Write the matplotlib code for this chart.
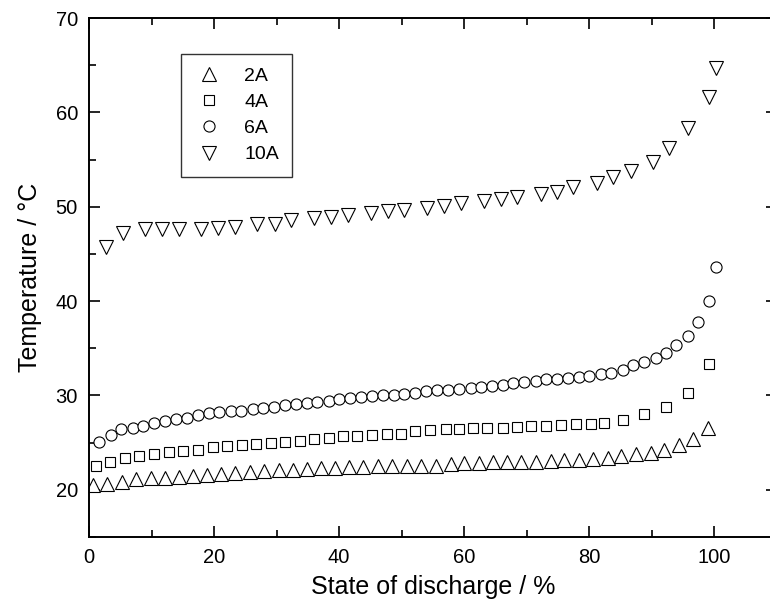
import matplotlib
matplotlib.use('Agg')
import matplotlib.pyplot as plt
from matplotlib.ticker import MultipleLocator

plt.rcParams['font.family'] = ['Liberation Sans', 'DejaVu Sans']

# 2A
x_2a = [0.6, 2.9, 5.3, 7.5, 9.9, 12.2, 14.4, 16.6, 18.9, 21.1, 23.4, 25.8, 28.0, 30.4,
        32.6, 34.9, 37.1, 39.4, 41.6, 43.8, 46.2, 48.5, 50.9, 53.1, 55.5, 57.8, 60.0,
        62.4, 64.6, 66.9, 69.1, 71.4, 73.8, 76.0, 78.4, 80.6, 82.9, 85.1, 87.5, 89.8,
        92.0, 94.4, 96.6, 99.0]
t_2a = [20.5, 20.6, 20.8, 21.1, 21.2, 21.3, 21.4, 21.5, 21.6, 21.7, 21.8, 21.9, 22.0, 22.1,
        22.1, 22.2, 22.3, 22.3, 22.4, 22.4, 22.5, 22.5, 22.5, 22.5, 22.5, 22.7, 22.8,
        22.8, 22.9, 22.9, 23.0, 23.0, 23.1, 23.2, 23.2, 23.3, 23.4, 23.6, 23.8, 23.9,
        24.2, 24.7, 25.4, 26.5]

# 4A
x_4a = [1.1, 3.4, 5.8, 8.0, 10.4, 12.8, 15.0, 17.4, 19.8, 22.1, 24.5, 26.7, 29.1, 31.4,
        33.8, 36.0, 38.4, 40.6, 42.9, 45.3, 47.7, 49.9, 52.2, 54.6, 57.0, 59.2, 61.4,
        63.7, 66.2, 68.5, 70.7, 73.1, 75.5, 77.8, 80.2, 82.4, 85.4, 88.8, 92.2, 95.7, 99.2]
t_4a = [22.5, 23.0, 23.4, 23.6, 23.8, 24.0, 24.1, 24.2, 24.5, 24.6, 24.8, 24.9, 25.0, 25.1,
        25.2, 25.4, 25.5, 25.7, 25.7, 25.8, 25.9, 25.9, 26.2, 26.3, 26.4, 26.4, 26.5,
        26.6, 26.6, 26.7, 26.8, 26.8, 26.9, 27.0, 27.0, 27.1, 27.4, 28.0, 28.8, 30.3, 33.3]

# 6A
x_6a = [1.6, 3.5, 5.1, 7.0, 8.6, 10.4, 12.2, 13.9, 15.7, 17.4, 19.2, 20.8, 22.7, 24.3,
        26.2, 27.8, 29.6, 31.4, 33.1, 34.9, 36.5, 38.4, 40.0, 41.8, 43.5, 45.3, 47.0,
        48.8, 50.4, 52.2, 53.9, 55.7, 57.4, 59.2, 61.0, 62.7, 64.5, 66.2, 67.8, 69.6,
        71.4, 73.1, 74.9, 76.6, 78.4, 80.0, 81.8, 83.5, 85.3, 87.0, 88.8, 90.6, 92.3,
        93.9, 95.7, 97.4, 99.2, 100.2]
t_6a = [25.1, 25.8, 26.4, 26.6, 26.8, 27.1, 27.3, 27.5, 27.6, 27.9, 28.1, 28.2, 28.3, 28.4,
        28.6, 28.7, 28.8, 29.0, 29.1, 29.2, 29.3, 29.4, 29.6, 29.7, 29.8, 29.9, 30.0,
        30.1, 30.2, 30.3, 30.5, 30.6, 30.6, 30.7, 30.8, 30.9, 31.0, 31.1, 31.3, 31.4,
        31.5, 31.7, 31.7, 31.9, 32.0, 32.1, 32.3, 32.4, 32.7, 33.2, 33.5, 34.0, 34.5,
        35.3, 36.3, 37.8, 40.0, 43.6]

# 10A
x_10a = [2.7, 5.4, 8.9, 11.7, 14.4, 17.9, 20.6, 23.4, 26.9, 29.8, 32.3, 36.0, 38.7, 41.4,
         45.1, 47.8, 50.4, 54.1, 56.8, 59.5, 63.2, 65.8, 68.5, 72.2, 74.9, 77.4, 81.3,
         83.8, 86.6, 90.2, 92.8, 95.7, 99.2, 100.2]
t_10a = [45.7, 47.2, 47.6, 47.6, 47.6, 47.6, 47.7, 47.9, 48.2, 48.2, 48.6, 48.8, 48.9, 49.1,
         49.3, 49.5, 49.7, 49.9, 50.1, 50.4, 50.6, 50.8, 51.0, 51.3, 51.6, 52.1, 52.5,
         53.1, 53.8, 54.7, 56.2, 58.3, 61.6, 64.7]

fig = plt.figure(figsize=(7.70, 6.07), dpi=100)
ax = fig.add_axes([89 / 770, 1 - 537 / 607, 688 / 770, 519 / 607])

style = dict(linestyle='none', markerfacecolor='white', markeredgecolor='black',
             markeredgewidth=0.8)
ax.plot(x_2a, t_2a, marker='^', markersize=9.5, label='2A', **style)
ax.plot(x_4a, t_4a, marker='s', markersize=7.2, label='4A', **style)
ax.plot(x_6a, t_6a, marker='o', markersize=8, label='6A', **style)
ax.plot(x_10a, t_10a, marker='v', markersize=9.5, label='10A', **style)

ax.set_xlim(0, 110)
ax.set_ylim(15, 70)
ax.xaxis.set_major_locator(MultipleLocator(20))
ax.xaxis.set_minor_locator(MultipleLocator(10))
ax.yaxis.set_major_locator(MultipleLocator(10))
ax.yaxis.set_minor_locator(MultipleLocator(5))
ax.tick_params(which='both', direction='in', top=True, right=True, width=1.2)
ax.tick_params(which='major', length=8, labelsize=14.5, pad=8)
ax.tick_params(which='minor', length=5)
for s in ax.spines.values():
    s.set_linewidth(1.4)

ax.set_xlabel('State of discharge / %', fontsize=18, labelpad=6)
ax.set_ylabel('Temperature / °C', fontsize=18, labelpad=10)

leg = ax.legend(loc='upper left', bbox_to_anchor=((181 - 89) / 688, (537 - 54) / 519),
                fontsize=14, frameon=True, fancybox=False, edgecolor='black',
                borderpad=0.68, labelspacing=0.44, handletextpad=1.03, handlelength=1.55,
                borderaxespad=0)
leg.get_frame().set_linewidth(1.0)

fig.savefig('out.png', dpi=100)
